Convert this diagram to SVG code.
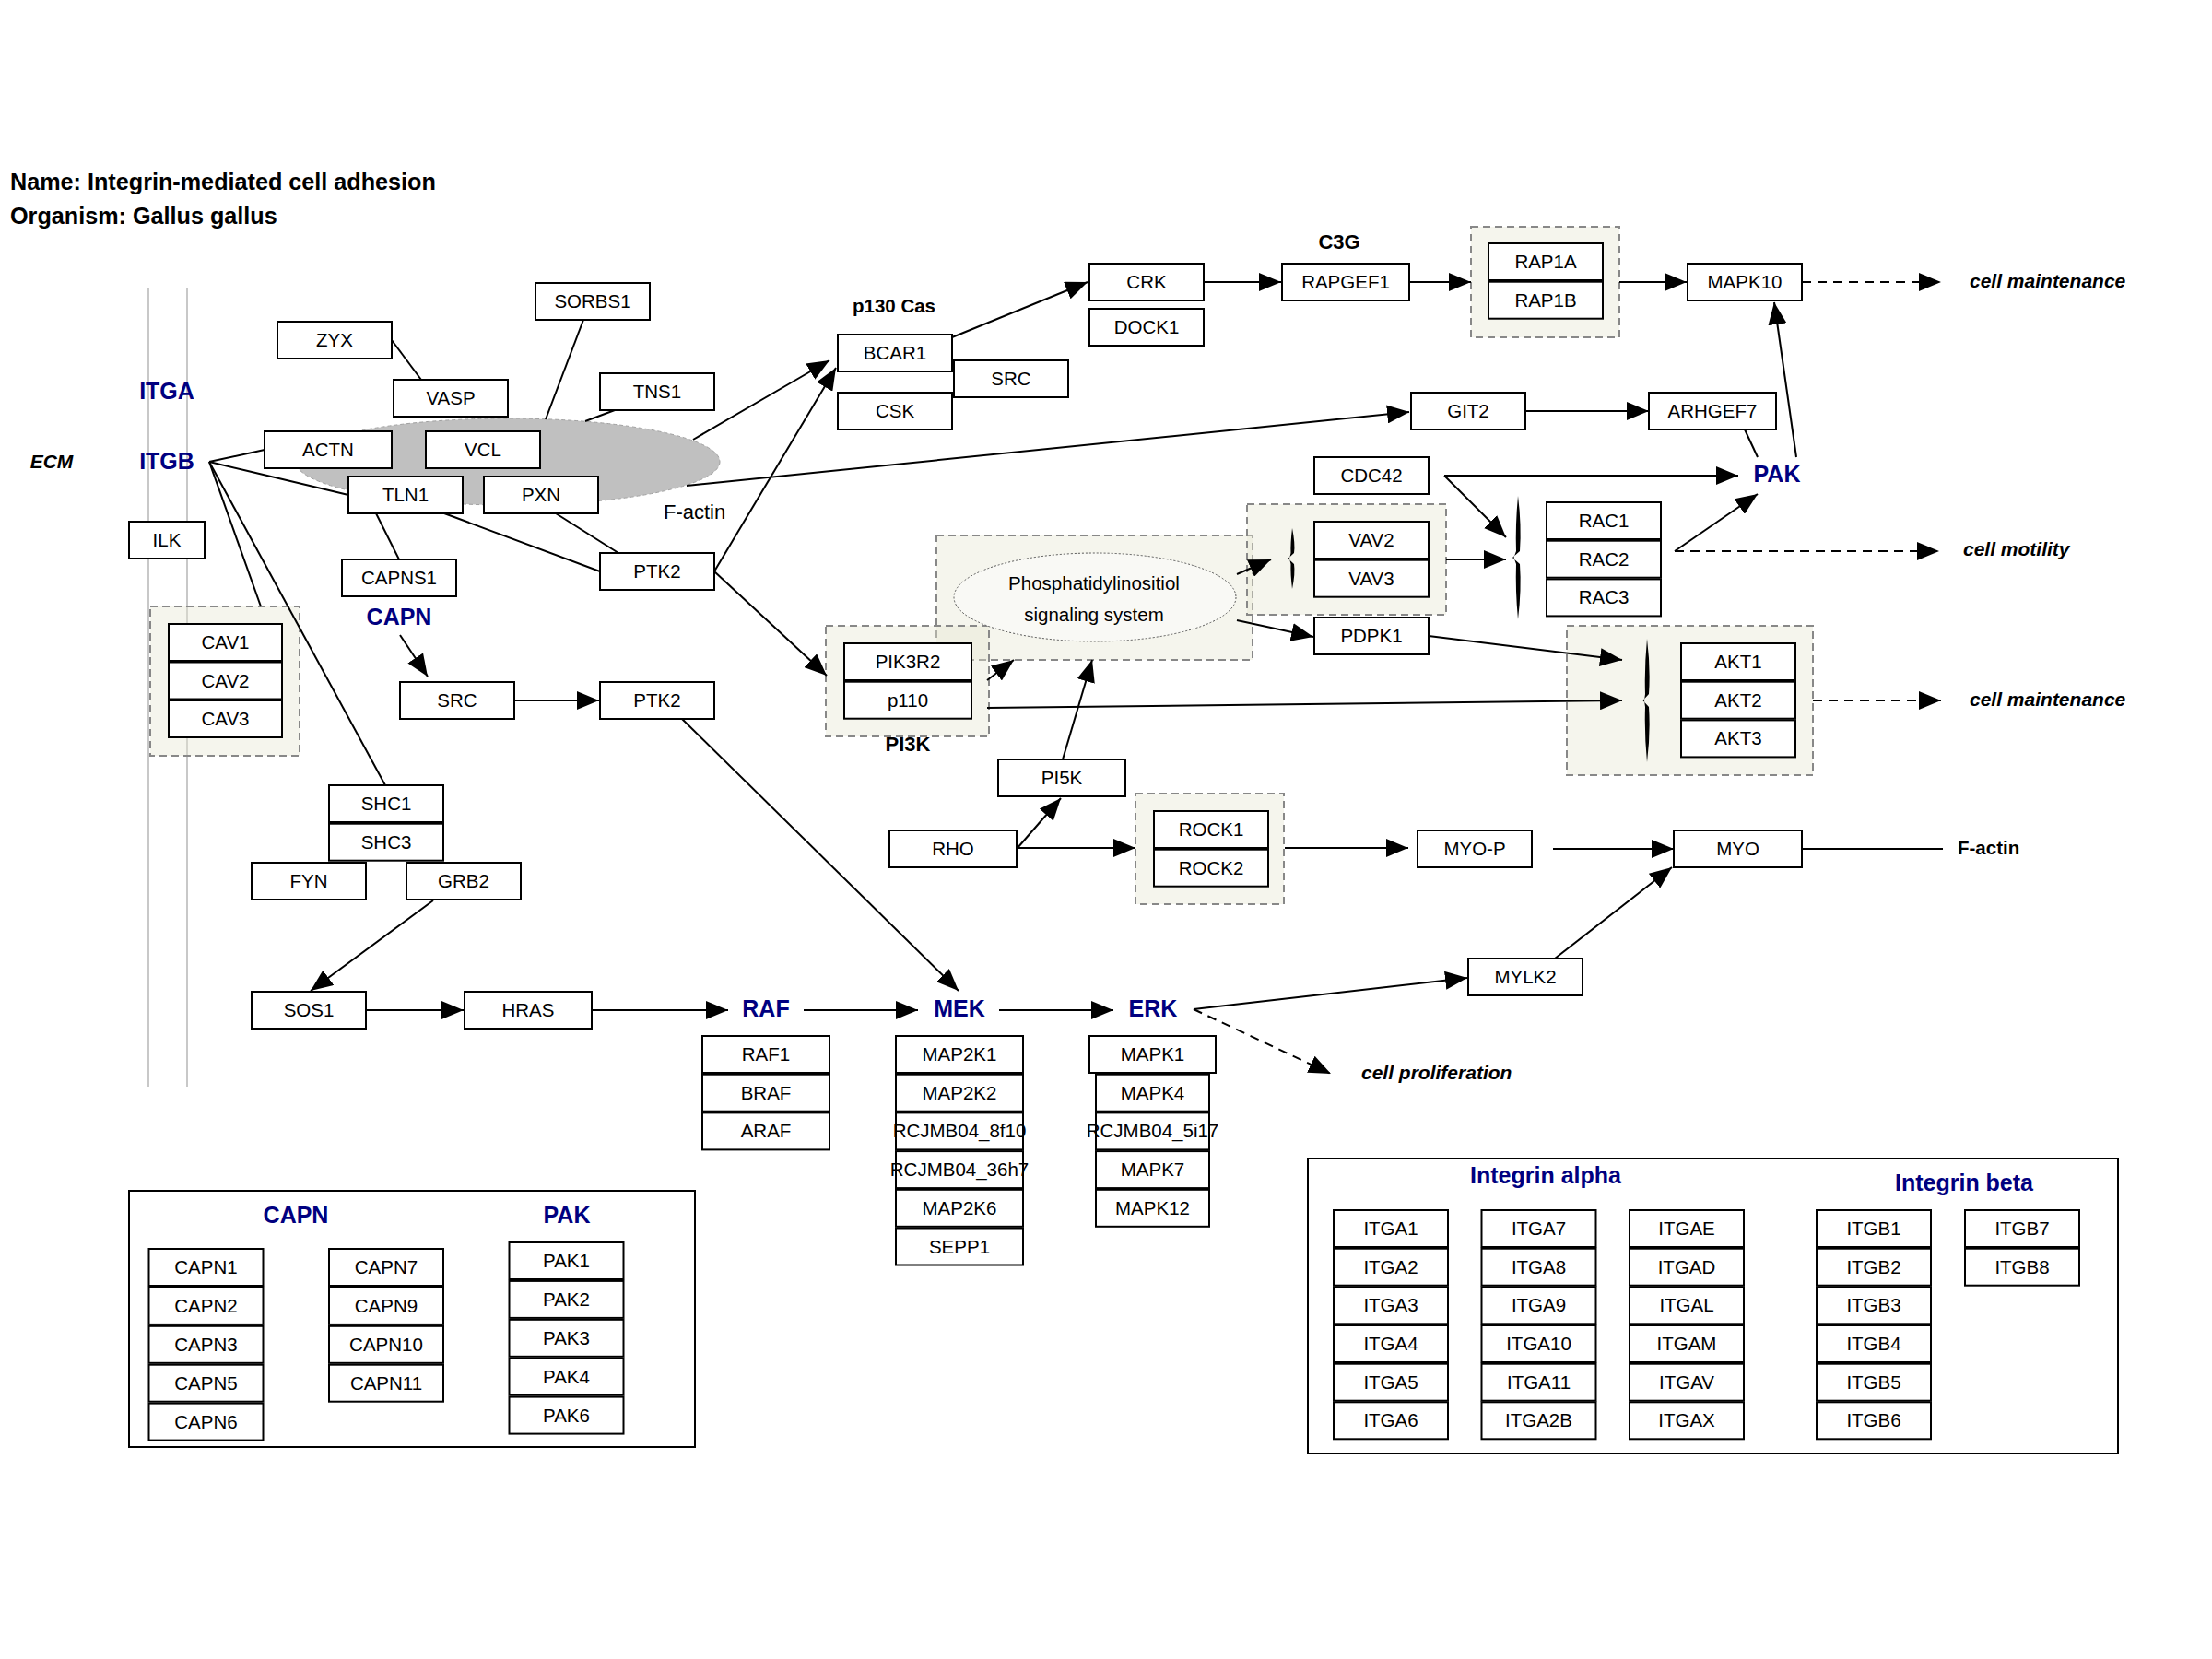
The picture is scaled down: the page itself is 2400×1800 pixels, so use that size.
<svg xmlns="http://www.w3.org/2000/svg" width="2400" height="1800" viewBox="0 0 2400 1800">
<defs>
<style>
text{font-family:"Liberation Sans",Arial,sans-serif;}
.box{fill:#fff;stroke:#000;stroke-width:2;}
.t{font-size:20.5px;text-anchor:middle;fill:#000;}
.nv{font-size:25px;font-weight:bold;fill:#000080;text-anchor:middle;}
.bl{font-weight:bold;fill:#000;}
.bi{font-size:21px;font-weight:bold;font-style:italic;fill:#000;}
.grp{fill:#e6e6d2;fill-opacity:0.4;stroke:#888;stroke-width:2;stroke-dasharray:8,5;}
.ln{stroke:#000;stroke-width:2;fill:none;}
.ar{marker-end:url(#ah);}
.ds{stroke-dasharray:10,7;}
.vl{stroke:#c8c8c8;stroke-width:2;}
.lg{fill:#fff;stroke:#000;stroke-width:2;}
</style>
<marker id="ah" markerWidth="24" markerHeight="20" refX="24" refY="10" orient="auto" markerUnits="userSpaceOnUse"><path d="M0,0 L24,10 L0,20 z" fill="#000"/></marker>
</defs>
<rect width="2400" height="1800" fill="#fff"/>

<g id="titles">
<text class="bl" x="11" y="206" font-size="25.2">Name: Integrin-mediated cell adhesion</text>
<text class="bl" x="11" y="243" font-size="25.2">Organism: Gallus gallus</text>
</g>

<g id="membrane">
<line class="vl" x1="161" y1="313" x2="161" y2="1179"/>
<line class="vl" x1="203" y1="313" x2="203" y2="1179"/>
</g>

<g id="labels">
<text class="bi" x="56" y="508" text-anchor="middle" font-size="20">ECM</text>
<text class="nv" x="181" y="433">ITGA</text>
<text class="nv" x="181" y="509">ITGB</text>
<text class="nv" x="433" y="678">CAPN</text>
<text class="nv" x="1928" y="523">PAK</text>
<text class="nv" x="831" y="1103">RAF</text>
<text class="nv" x="1041" y="1103">MEK</text>
<text class="nv" x="1251" y="1103">ERK</text>
<text class="bl" x="970" y="339" font-size="20.5" text-anchor="middle">p130 Cas</text>
<text class="bl" x="1453" y="270" font-size="22" text-anchor="middle">C3G</text>
<text class="bl" x="985" y="815" font-size="22" text-anchor="middle">PI3K</text>
<text x="720" y="563" font-size="22">F-actin</text>
<text class="bl" x="2124" y="927" font-size="20.5">F-actin</text>
<text class="bi" x="2137" y="312">cell maintenance</text>
<text class="bi" x="2137" y="766">cell maintenance</text>
<text class="bi" x="2130" y="603">cell motility</text>
<text class="bi" x="1477" y="1171">cell proliferation</text>
</g>

<g id="factin">
<ellipse cx="551" cy="501" rx="230" ry="47" fill="#c0c0c0" stroke="#a0a0a0" stroke-width="1" stroke-dasharray="4,3"/>
</g>

<g id="groups">
<rect id="g_cav" class="grp" x="163" y="658" width="162" height="162"/>
<rect id="g_rap" class="grp" x="1596" y="246" width="161" height="120"/>
<rect id="g_phos" class="grp" x="1016" y="581" width="343" height="135"/>
<rect id="g_vav" class="grp" x="1353" y="547" width="216" height="120"/>
<rect id="g_pi3k" class="grp" x="896" y="679" width="177" height="120"/>
<rect id="g_akt" class="grp" x="1700" y="679" width="267" height="162"/>
<rect id="g_rock" class="grp" x="1232" y="861" width="161" height="120"/>
</g>

<g id="connectors">
<line class="ln" x1="227" y1="501" x2="287" y2="488"/>
<line class="ln" x1="227" y1="501" x2="378" y2="537"/>
<line class="ln" x1="227" y1="501" x2="283" y2="658"/>
<line class="ln" x1="227" y1="501" x2="418" y2="852"/>
<line class="ln" x1="425" y1="369" x2="457" y2="412"/>
<line class="ln" x1="633" y1="347" x2="592" y2="455"/>
<line class="ln" x1="667" y1="445" x2="635" y2="457"/>
<line class="ln" x1="408" y1="557" x2="433" y2="607"/>
<line class="ln" x1="482" y1="557" x2="651" y2="620"/>
<line class="ln" x1="603" y1="557" x2="671" y2="600"/>
<line class="ln ar" x1="752" y1="477" x2="900" y2="391"/>
<line class="ln ar" x1="775" y1="620" x2="907" y2="399"/>
<line class="ln ar" x1="745" y1="527" x2="1529" y2="447"/>
<line class="ln ar" x1="775" y1="620" x2="897" y2="733"/>
<line class="ln ar" x1="434" y1="689" x2="464" y2="734"/>
<line class="ln ar" x1="558" y1="760" x2="650" y2="760"/>
<line class="ln ar" x1="740" y1="780" x2="1040" y2="1075"/>
<line class="ln ar" x1="470" y1="977" x2="337" y2="1075"/>
<line class="ln ar" x1="397" y1="1096" x2="503" y2="1096"/>
<line class="ln ar" x1="642" y1="1096" x2="790" y2="1096"/>
<line class="ln ar" x1="872" y1="1096" x2="996" y2="1096"/>
<line class="ln ar" x1="1084" y1="1096" x2="1208" y2="1096"/>
<line class="ln ar" x1="1295" y1="1095" x2="1592" y2="1061"/>
<line class="ln ar ds" x1="1295" y1="1095" x2="1444" y2="1165"/>
<line class="ln ar" x1="1687" y1="1040" x2="1814" y2="941"/>
<line class="ln ar" x1="1033" y1="366" x2="1180" y2="306"/>
<line class="ln ar" x1="1306" y1="306" x2="1390" y2="306"/>
<line class="ln ar" x1="1529" y1="306" x2="1596" y2="306"/>
<line class="ln ar" x1="1757" y1="306" x2="1830" y2="306"/>
<line class="ln ar ds" x1="1955" y1="306" x2="2106" y2="306"/>
<line class="ln ar" x1="1655" y1="446" x2="1789" y2="446"/>
<line class="ln" x1="1893" y1="466" x2="1907" y2="496"/>
<line class="ln ar" x1="1949" y1="496" x2="1925" y2="328"/>
<line class="ln ar" x1="1567" y1="516" x2="1886" y2="516"/>
<line class="ln ar" x1="1567" y1="516" x2="1634" y2="583"/>
<line class="ln ar" x1="1569" y1="607" x2="1634" y2="607"/>
<line class="ln ar" x1="1817" y1="598" x2="1907" y2="536"/>
<line class="ln ar ds" x1="1817" y1="598" x2="2104" y2="598"/>
<line class="ln ar" x1="1071" y1="738" x2="1100" y2="716"/>
<line class="ln ar" x1="1342" y1="623" x2="1379" y2="607"/>
<line class="ln ar" x1="1342" y1="673" x2="1425" y2="691"/>
<line class="ln ar" x1="1550" y1="690" x2="1760" y2="716"/>
<line class="ln ar" x1="1071" y1="768" x2="1760" y2="760"/>
<line class="ln ar ds" x1="1967" y1="760" x2="2106" y2="760"/>
<line class="ln ar" x1="1153" y1="824" x2="1185" y2="716"/>
<line class="ln ar" x1="1104" y1="920" x2="1151" y2="866"/>
<line class="ln ar" x1="1103" y1="920" x2="1232" y2="920"/>
<line class="ln ar" x1="1394" y1="920" x2="1528" y2="920"/>
<line class="ln ar" x1="1685" y1="921" x2="1816" y2="921"/>
<line class="ln" x1="1955" y1="921" x2="2108" y2="921"/>
</g>

<g id="brackets">
<path d="M1647,538 Q1651,570 1649,598 L1641,605 L1649,612 Q1651,640 1647,672 Q1644,640 1645,612 L1642.5,605 L1645,598 Q1644,570 1647,538 Z" fill="#000"/>
<path d="M1402,573 Q1405.5,590 1404,600 L1397.5,606 L1404,612 Q1405.5,622 1402,639 Q1400,622 1400.5,612 L1399,606 L1400.5,600 Q1400,590 1402,573 Z" fill="#000"/>
<path d="M1787,693 Q1791,725 1789,753 L1782.5,760 L1789,767 Q1791,795 1787,827 Q1784,795 1785,767 L1784,760 L1785,753 Q1784,725 1787,693 Z" fill="#000"/>
</g>

<g id="phos">
<ellipse cx="1188" cy="648" rx="153" ry="48" fill="#f9f9f5" stroke="#555" stroke-width="1" stroke-dasharray="2,2"/>
<text class="t" x="1187" y="640">Phosphatidylinositiol</text>
<text class="t" x="1187" y="674">signaling system</text>
</g>

<g id="n_sorbs1"><rect class="box" x="581" y="307" width="124" height="40"/><text class="t" x="643" y="334">SORBS1</text></g>
<g id="n_zyx"><rect class="box" x="301" y="349" width="124" height="40"/><text class="t" x="363" y="376">ZYX</text></g>
<g id="n_vasp"><rect class="box" x="427" y="412" width="124" height="40"/><text class="t" x="489" y="439">VASP</text></g>
<g id="n_tns1"><rect class="box" x="651" y="405" width="124" height="40"/><text class="t" x="713" y="432">TNS1</text></g>
<g id="n_actn"><rect class="box" x="287" y="468" width="138" height="40"/><text class="t" x="356" y="495">ACTN</text></g>
<g id="n_vcl"><rect class="box" x="462" y="468" width="124" height="40"/><text class="t" x="524" y="495">VCL</text></g>
<g id="n_tln1"><rect class="box" x="378" y="517" width="124" height="40"/><text class="t" x="440" y="544">TLN1</text></g>
<g id="n_pxn"><rect class="box" x="525" y="517" width="124" height="40"/><text class="t" x="587" y="544">PXN</text></g>
<g id="n_ilk"><rect class="box" x="140" y="566" width="82" height="40"/><text class="t" x="181" y="593">ILK</text></g>
<g id="n_capns1"><rect class="box" x="371" y="607" width="124" height="40"/><text class="t" x="433" y="634">CAPNS1</text></g>
<g id="n_ptk2a"><rect class="box" x="651" y="600" width="124" height="40"/><text class="t" x="713" y="627">PTK2</text></g>
<g id="n_src2"><rect class="box" x="434" y="740" width="124" height="40"/><text class="t" x="496" y="767">SRC</text></g>
<g id="n_ptk2b"><rect class="box" x="651" y="740" width="124" height="40"/><text class="t" x="713" y="767">PTK2</text></g>
<g id="n_cav1"><rect class="box" x="183" y="677" width="123" height="40"/><text class="t" x="244.5" y="704">CAV1</text></g>
<g id="n_cav2"><rect class="box" x="183" y="718.5" width="123" height="40"/><text class="t" x="244.5" y="745.5">CAV2</text></g>
<g id="n_cav3"><rect class="box" x="183" y="760" width="123" height="40"/><text class="t" x="244.5" y="787">CAV3</text></g>
<g id="n_shc1"><rect class="box" x="357" y="852" width="124" height="40"/><text class="t" x="419" y="879">SHC1</text></g>
<g id="n_shc3"><rect class="box" x="357" y="893.7" width="124" height="40"/><text class="t" x="419" y="920.7">SHC3</text></g>
<g id="n_fyn"><rect class="box" x="273" y="936" width="124" height="40"/><text class="t" x="335" y="963">FYN</text></g>
<g id="n_grb2"><rect class="box" x="441" y="936" width="124" height="40"/><text class="t" x="503" y="963">GRB2</text></g>
<g id="n_sos1"><rect class="box" x="273" y="1076" width="124" height="40"/><text class="t" x="335" y="1103">SOS1</text></g>
<g id="n_hras"><rect class="box" x="504" y="1076" width="138" height="40"/><text class="t" x="573" y="1103">HRAS</text></g>
<g id="n_bcar1"><rect class="box" x="909" y="363" width="124" height="40"/><text class="t" x="971" y="390">BCAR1</text></g>
<g id="n_src1"><rect class="box" x="1035" y="391" width="124" height="40"/><text class="t" x="1097" y="418">SRC</text></g>
<g id="n_csk"><rect class="box" x="909" y="426" width="124" height="40"/><text class="t" x="971" y="453">CSK</text></g>
<g id="n_crk"><rect class="box" x="1182" y="286" width="124" height="40"/><text class="t" x="1244" y="313">CRK</text></g>
<g id="n_dock1"><rect class="box" x="1182" y="335" width="124" height="40"/><text class="t" x="1244" y="362">DOCK1</text></g>
<g id="n_rapgef1"><rect class="box" x="1391" y="286" width="138" height="40"/><text class="t" x="1460" y="313">RAPGEF1</text></g>
<g id="n_rap1a"><rect class="box" x="1615" y="264" width="124" height="40"/><text class="t" x="1677" y="291">RAP1A</text></g>
<g id="n_rap1b"><rect class="box" x="1615" y="305.7" width="124" height="40"/><text class="t" x="1677" y="332.7">RAP1B</text></g>
<g id="n_mapk10"><rect class="box" x="1831" y="286" width="124" height="40"/><text class="t" x="1893" y="313">MAPK10</text></g>
<g id="n_git2"><rect class="box" x="1531" y="426" width="124" height="40"/><text class="t" x="1593" y="453">GIT2</text></g>
<g id="n_arhgef7"><rect class="box" x="1789" y="426" width="138" height="40"/><text class="t" x="1858" y="453">ARHGEF7</text></g>
<g id="n_cdc42"><rect class="box" x="1426" y="496" width="124" height="40"/><text class="t" x="1488" y="523">CDC42</text></g>
<g id="n_vav2"><rect class="box" x="1426" y="566" width="124" height="40"/><text class="t" x="1488" y="593">VAV2</text></g>
<g id="n_vav3"><rect class="box" x="1426" y="607.7" width="124" height="40"/><text class="t" x="1488" y="634.7">VAV3</text></g>
<g id="n_rac1"><rect class="box" x="1678" y="545" width="124" height="40"/><text class="t" x="1740" y="572">RAC1</text></g>
<g id="n_rac2"><rect class="box" x="1678" y="586.7" width="124" height="40"/><text class="t" x="1740" y="613.7">RAC2</text></g>
<g id="n_rac3"><rect class="box" x="1678" y="628.4" width="124" height="40"/><text class="t" x="1740" y="655.4">RAC3</text></g>
<g id="n_pdpk1"><rect class="box" x="1426" y="670" width="124" height="40"/><text class="t" x="1488" y="697">PDPK1</text></g>
<g id="n_pik3r2"><rect class="box" x="916" y="698" width="138" height="40"/><text class="t" x="985" y="725">PIK3R2</text></g>
<g id="n_p110"><rect class="box" x="916" y="739.7" width="138" height="40"/><text class="t" x="985" y="766.7">p110</text></g>
<g id="n_akt1"><rect class="box" x="1824" y="698" width="124" height="40"/><text class="t" x="1886" y="725">AKT1</text></g>
<g id="n_akt2"><rect class="box" x="1824" y="739.7" width="124" height="40"/><text class="t" x="1886" y="766.7">AKT2</text></g>
<g id="n_akt3"><rect class="box" x="1824" y="781.4" width="124" height="40"/><text class="t" x="1886" y="808.4">AKT3</text></g>
<g id="n_pi5k"><rect class="box" x="1083" y="824" width="138" height="40"/><text class="t" x="1152" y="851">PI5K</text></g>
<g id="n_rho"><rect class="box" x="965" y="901" width="138" height="40"/><text class="t" x="1034" y="928">RHO</text></g>
<g id="n_rock1"><rect class="box" x="1252" y="880" width="124" height="40"/><text class="t" x="1314" y="907">ROCK1</text></g>
<g id="n_rock2"><rect class="box" x="1252" y="921.7" width="124" height="40"/><text class="t" x="1314" y="948.7">ROCK2</text></g>
<g id="n_myop"><rect class="box" x="1538" y="901" width="124" height="40"/><text class="t" x="1600" y="928">MYO-P</text></g>
<g id="n_myo"><rect class="box" x="1816" y="901" width="139" height="40"/><text class="t" x="1885.5" y="928">MYO</text></g>
<g id="n_mylk2"><rect class="box" x="1593" y="1040" width="124" height="40"/><text class="t" x="1655" y="1067">MYLK2</text></g>

<g id="n_raf1"><rect class="box" x="762" y="1124" width="138" height="40"/><text class="t" x="831" y="1151">RAF1</text></g>
<g id="n_braf"><rect class="box" x="762" y="1165.7" width="138" height="40"/><text class="t" x="831" y="1192.7">BRAF</text></g>
<g id="n_araf"><rect class="box" x="762" y="1207.4" width="138" height="40"/><text class="t" x="831" y="1234.4">ARAF</text></g>

<g id="n_map2k1"><rect class="box" x="972" y="1124" width="138" height="40"/><text class="t" x="1041" y="1151">MAP2K1</text></g>
<g id="n_map2k2"><rect class="box" x="972" y="1165.7" width="138" height="40"/><text class="t" x="1041" y="1192.7">MAP2K2</text></g>
<g id="n_rc8f10"><rect class="box" x="972" y="1207.4" width="138" height="40"/><text class="t" x="1041" y="1234.4">RCJMB04_8f10</text></g>
<g id="n_rc36h7"><rect class="box" x="972" y="1249.1" width="138" height="40"/><text class="t" x="1041" y="1276.1">RCJMB04_36h7</text></g>
<g id="n_map2k6"><rect class="box" x="972" y="1290.8" width="138" height="40"/><text class="t" x="1041" y="1317.8">MAP2K6</text></g>
<g id="n_sepp1"><rect class="box" x="972" y="1332.5" width="138" height="40"/><text class="t" x="1041" y="1359.5">SEPP1</text></g>

<g id="n_mapk1"><rect class="box" x="1182" y="1124" width="137" height="40"/><text class="t" x="1250.5" y="1151">MAPK1</text></g>
<g id="n_mapk4"><rect class="box" x="1189" y="1165.7" width="123" height="40"/><text class="t" x="1250.5" y="1192.7">MAPK4</text></g>
<g id="n_rc5i17"><rect class="box" x="1189" y="1207.4" width="123" height="40"/><text class="t" x="1250.5" y="1234.4">RCJMB04_5i17</text></g>
<g id="n_mapk7"><rect class="box" x="1189" y="1249.1" width="123" height="40"/><text class="t" x="1250.5" y="1276.1">MAPK7</text></g>
<g id="n_mapk12"><rect class="box" x="1189" y="1290.8" width="123" height="40"/><text class="t" x="1250.5" y="1317.8">MAPK12</text></g>

<g id="legend_capn_pak">
<rect class="lg" x="140" y="1292" width="614" height="278"/>
<text class="nv" x="321" y="1327">CAPN</text>
<text class="nv" x="615" y="1327">PAK</text>
<g id="l_capn1"><rect class="box" x="161.5" y="1355" width="124" height="40"/><text class="t" x="223.5" y="1382">CAPN1</text></g>
<g id="l_capn2"><rect class="box" x="161.5" y="1396.9" width="124" height="40"/><text class="t" x="223.5" y="1423.9">CAPN2</text></g>
<g id="l_capn3"><rect class="box" x="161.5" y="1438.8" width="124" height="40"/><text class="t" x="223.5" y="1465.8">CAPN3</text></g>
<g id="l_capn5"><rect class="box" x="161.5" y="1480.7" width="124" height="40"/><text class="t" x="223.5" y="1507.7">CAPN5</text></g>
<g id="l_capn6"><rect class="box" x="161.5" y="1522.6" width="124" height="40"/><text class="t" x="223.5" y="1549.6">CAPN6</text></g>
<g id="l_capn7"><rect class="box" x="357" y="1355" width="124" height="40"/><text class="t" x="419" y="1382">CAPN7</text></g>
<g id="l_capn9"><rect class="box" x="357" y="1396.9" width="124" height="40"/><text class="t" x="419" y="1423.9">CAPN9</text></g>
<g id="l_capn10"><rect class="box" x="357" y="1438.8" width="124" height="40"/><text class="t" x="419" y="1465.8">CAPN10</text></g>
<g id="l_capn11"><rect class="box" x="357" y="1480.7" width="124" height="40"/><text class="t" x="419" y="1507.7">CAPN11</text></g>
<g id="l_pak1"><rect class="box" x="552.5" y="1348" width="124" height="40"/><text class="t" x="614.5" y="1375">PAK1</text></g>
<g id="l_pak2"><rect class="box" x="552.5" y="1389.9" width="124" height="40"/><text class="t" x="614.5" y="1416.9">PAK2</text></g>
<g id="l_pak3"><rect class="box" x="552.5" y="1431.8" width="124" height="40"/><text class="t" x="614.5" y="1458.8">PAK3</text></g>
<g id="l_pak4"><rect class="box" x="552.5" y="1473.7" width="124" height="40"/><text class="t" x="614.5" y="1500.7">PAK4</text></g>
<g id="l_pak6"><rect class="box" x="552.5" y="1515.6" width="124" height="40"/><text class="t" x="614.5" y="1542.6">PAK6</text></g>
</g>

<g id="legend_integrin">
<rect class="lg" x="1419" y="1257" width="879" height="320"/>
<text class="nv" x="1677" y="1284">Integrin alpha</text>
<text class="nv" x="2131" y="1292">Integrin beta</text>
<g id="l_itga1"><rect class="box" x="1447" y="1313" width="124" height="40"/><text class="t" x="1509" y="1340">ITGA1</text></g>
<g id="l_itga2"><rect class="box" x="1447" y="1354.7" width="124" height="40"/><text class="t" x="1509" y="1381.7">ITGA2</text></g>
<g id="l_itga3"><rect class="box" x="1447" y="1396.3" width="124" height="40"/><text class="t" x="1509" y="1423.3">ITGA3</text></g>
<g id="l_itga4"><rect class="box" x="1447" y="1438" width="124" height="40"/><text class="t" x="1509" y="1465">ITGA4</text></g>
<g id="l_itga5"><rect class="box" x="1447" y="1479.7" width="124" height="40"/><text class="t" x="1509" y="1506.7">ITGA5</text></g>
<g id="l_itga6"><rect class="box" x="1447" y="1521.3" width="124" height="40"/><text class="t" x="1509" y="1548.3">ITGA6</text></g>
<g id="l_itga7"><rect class="box" x="1607.5" y="1313" width="124" height="40"/><text class="t" x="1669.5" y="1340">ITGA7</text></g>
<g id="l_itga8"><rect class="box" x="1607.5" y="1354.7" width="124" height="40"/><text class="t" x="1669.5" y="1381.7">ITGA8</text></g>
<g id="l_itga9"><rect class="box" x="1607.5" y="1396.3" width="124" height="40"/><text class="t" x="1669.5" y="1423.3">ITGA9</text></g>
<g id="l_itga10"><rect class="box" x="1607.5" y="1438" width="124" height="40"/><text class="t" x="1669.5" y="1465">ITGA10</text></g>
<g id="l_itga11"><rect class="box" x="1607.5" y="1479.7" width="124" height="40"/><text class="t" x="1669.5" y="1506.7">ITGA11</text></g>
<g id="l_itga2b"><rect class="box" x="1607.5" y="1521.3" width="124" height="40"/><text class="t" x="1669.5" y="1548.3">ITGA2B</text></g>
<g id="l_itgae"><rect class="box" x="1768" y="1313" width="124" height="40"/><text class="t" x="1830" y="1340">ITGAE</text></g>
<g id="l_itgad"><rect class="box" x="1768" y="1354.7" width="124" height="40"/><text class="t" x="1830" y="1381.7">ITGAD</text></g>
<g id="l_itgal"><rect class="box" x="1768" y="1396.3" width="124" height="40"/><text class="t" x="1830" y="1423.3">ITGAL</text></g>
<g id="l_itgam"><rect class="box" x="1768" y="1438" width="124" height="40"/><text class="t" x="1830" y="1465">ITGAM</text></g>
<g id="l_itgav"><rect class="box" x="1768" y="1479.7" width="124" height="40"/><text class="t" x="1830" y="1506.7">ITGAV</text></g>
<g id="l_itgax"><rect class="box" x="1768" y="1521.3" width="124" height="40"/><text class="t" x="1830" y="1548.3">ITGAX</text></g>
<g id="l_itgb1"><rect class="box" x="1971" y="1313" width="124" height="40"/><text class="t" x="2033" y="1340">ITGB1</text></g>
<g id="l_itgb2"><rect class="box" x="1971" y="1354.7" width="124" height="40"/><text class="t" x="2033" y="1381.7">ITGB2</text></g>
<g id="l_itgb3"><rect class="box" x="1971" y="1396.3" width="124" height="40"/><text class="t" x="2033" y="1423.3">ITGB3</text></g>
<g id="l_itgb4"><rect class="box" x="1971" y="1438" width="124" height="40"/><text class="t" x="2033" y="1465">ITGB4</text></g>
<g id="l_itgb5"><rect class="box" x="1971" y="1479.7" width="124" height="40"/><text class="t" x="2033" y="1506.7">ITGB5</text></g>
<g id="l_itgb6"><rect class="box" x="1971" y="1521.3" width="124" height="40"/><text class="t" x="2033" y="1548.3">ITGB6</text></g>
<g id="l_itgb7"><rect class="box" x="2132" y="1313" width="124" height="40"/><text class="t" x="2194" y="1340">ITGB7</text></g>
<g id="l_itgb8"><rect class="box" x="2132" y="1354.7" width="124" height="40"/><text class="t" x="2194" y="1381.7">ITGB8</text></g>
</g>
</svg>
